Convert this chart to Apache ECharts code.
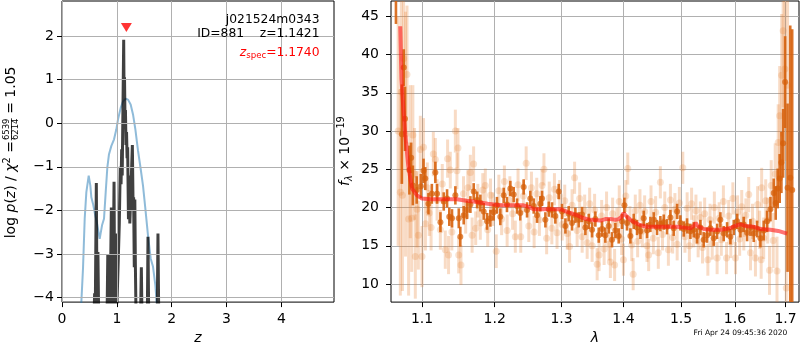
<!DOCTYPE html>
<html>
<head>
<meta charset="utf-8">
<script src="https://cdn.jsdelivr.net/npm/echarts@6/dist/echarts.min.js"></script>
<style>
  html, body { margin: 0; padding: 0; background: #fff; }
  #c { width: 800px; height: 350px; }
</style>
</head>
<body>
<div id="c"></div>
<script>
const FONT = 'DejaVu Sans';

// ---- left panel: redshift probability ----
const zTicks = [0, 1, 2, 3, 4];
const logpTicks = [-4, -3, -2, -1, 0, 1, 2];

// smooth prior-like curve
const zPrior = [0.341, 0.383, 0.414, 0.444, 0.487, 0.517, 0.535, 0.566, 0.608, 0.645, 0.687, 0.730, 0.766, 0.797, 0.827, 0.857, 0.900, 0.949, 0.991, 1.022, 1.070, 1.113, 1.161, 1.204, 1.252, 1.295, 1.338, 1.386, 1.435, 1.477, 1.520, 1.568, 1.617, 1.660, 1.702, 1.745];
const logpPrior = [-4.4, -3.33, -2.19, -1.58, -1.20, -1.43, -1.70, -1.85, -2.12, -2.34, -2.65, -2.34, -2.19, -1.58, -1.01, -0.71, -0.52, -0.37, -0.14, 0.09, 0.35, 0.50, 0.56, 0.54, 0.43, 0.20, -0.14, -0.63, -1.05, -1.43, -1.96, -2.57, -3.10, -3.29, -3.71, -4.4];

// spiky fit p(z)
const zFit = [0.58, 0.595, 0.605, 0.626, 0.64, 0.655, 0.67, 0.82, 0.835, 0.85, 0.86, 0.875, 0.90, 0.925, 0.949, 0.962, 0.979, 0.992, 1.02, 1.045, 1.062, 1.077, 1.088, 1.098, 1.125, 1.133, 1.140, 1.148, 1.157, 1.167, 1.177, 1.187, 1.197, 1.212, 1.222, 1.237, 1.283, 1.297, 1.306, 1.318, 1.328, 1.338, 1.352, 1.43, 1.447, 1.46, 1.555, 1.568, 1.582, 1.735, 1.750, 1.765];
const logpFit = [-4.6, -3.9, -4.6, -1.37, -4.5, -2.95, -4.6, -4.6, -3.0, -3.4, -3.05, -4.6, -1.93, -4.6, -1.34, -4.6, -2.53, -4.6, -4.6, -2.3, -1.0, -1.4, -0.6, -1.2, 1.91, 0.4, 1.05, 0.2, 0.3, -0.5, -0.2, -0.8, -0.55, -2.2, -1.2, -2.3, -0.5, -2.0, -1.7, -3.3, -1.75, -3.25, -4.6, -4.6, -3.3, -4.6, -4.6, -2.6, -4.6, -4.6, -2.53, -4.6];

const zSpec = 1.1740;
const zSpecMarkY = 2.19;

// ---- right panel: spectrum ----
const lamTicks = [1.1, 1.2, 1.3, 1.4, 1.5, 1.6, 1.7];
const fluxTicks = [10, 15, 20, 25, 30, 35, 40, 45];

// [lambda, flux, error] - primary extraction
const specMain = [
  [1.0662, 50.0, 6.0], [1.0738, 29.6, 6.5], [1.0762, 38.3, 2.4], [1.0778, 31.6, 4.2], [1.0835, 24.9, 3.2],
  [1.0858, 26.5, 2.0], [1.0880, 22.9, 2.6], [1.0930, 22.3, 1.8], [1.0985, 22.8, 1.6], [1.1020, 24.8, 1.6],
  [1.1043, 23.8, 1.5], [1.1085, 20.5, 1.4], [1.1130, 21.8, 1.3], [1.1177, 24.6, 1.4], [1.1200, 21.8, 1.3],
  [1.1245, 18.1, 1.3], [1.1290, 20.8, 1.2], [1.1335, 21.2, 1.2], [1.1365, 18.8, 1.2], [1.1402, 18.6, 1.2],
  [1.1448, 21.6, 1.2], [1.1495, 18.6, 1.3], [1.1516, 16.2, 1.3], [1.1563, 19.0, 1.2], [1.1609, 19.7, 1.2],
  [1.1656, 20.4, 1.1], [1.1702, 22.1, 1.1], [1.1750, 21.0, 1.1], [1.1796, 20.6, 1.1], [1.1843, 19.5, 1.1],
  [1.1890, 18.2, 1.1], [1.1938, 18.6, 1.1], [1.1985, 19.4, 1.1], [1.2033, 20.3, 1.1], [1.2081, 18.8, 1.1],
  [1.2130, 21.6, 1.0], [1.2178, 20.4, 1.0], [1.2227, 22.5, 1.0], [1.2276, 21.7, 1.0], [1.2326, 20.2, 1.0],
  [1.2374, 19.3, 1.0], [1.2424, 22.7, 1.0], [1.2474, 19.7, 1.0], [1.2523, 21.2, 1.0], [1.2574, 20.2, 1.0],
  [1.2624, 19.0, 1.0], [1.2674, 20.5, 1.0], [1.2700, 21.2, 1.0], [1.2751, 18.4, 1.0], [1.2802, 19.8, 1.0],
  [1.2853, 19.7, 1.0], [1.2904, 18.9, 1.0], [1.2956, 22.1, 1.0], [1.3008, 19.5, 1.0], [1.3060, 17.6, 1.0],
  [1.3112, 19.2, 1.0], [1.3164, 18.0, 1.0], [1.3217, 19.0, 1.0], [1.3270, 18.4, 1.0], [1.3323, 19.1, 1.0],
  [1.3376, 17.4, 1.0], [1.3430, 18.2, 1.0], [1.3484, 17.1, 1.0], [1.3537, 18.5, 1.0], [1.3592, 16.4, 1.0],
  [1.3646, 17.2, 1.0], [1.3700, 16.4, 1.0], [1.3755, 17.6, 1.0], [1.3810, 15.8, 1.0], [1.3865, 17.0, 1.0],
  [1.3921, 16.3, 1.0], [1.3977, 18.2, 1.0], [1.4016, 20.3, 1.0], [1.4060, 18.0, 1.0], [1.4117, 16.3, 1.0],
  [1.4173, 18.2, 1.0], [1.4230, 17.4, 1.0], [1.4287, 16.9, 1.0], [1.4344, 18.6, 1.0], [1.4402, 17.0, 1.0],
  [1.4459, 17.8, 1.0], [1.4517, 18.4, 1.0], [1.4575, 17.4, 1.0], [1.4633, 17.9, 1.0], [1.4692, 18.1, 1.0],
  [1.4751, 17.5, 1.0], [1.4810, 18.7, 1.0], [1.4869, 17.3, 1.0], [1.4929, 19.5, 1.0], [1.4988, 18.0, 1.0],
  [1.5048, 17.2, 1.0], [1.5108, 17.6, 1.0], [1.5169, 16.9, 1.0], [1.5230, 17.1, 1.0], [1.5290, 16.3, 1.0],
  [1.5351, 17.4, 1.0], [1.5413, 15.8, 1.0], [1.5475, 16.4, 1.0], [1.5536, 17.3, 1.0], [1.5598, 16.0, 1.0],
  [1.5661, 16.9, 1.0], [1.5723, 18.4, 1.0], [1.5786, 16.6, 1.0], [1.5850, 17.1, 1.0], [1.5913, 16.2, 1.0],
  [1.5977, 17.4, 1.0], [1.6041, 18.2, 1.0], [1.6105, 17.1, 1.0], [1.6169, 17.8, 1.0], [1.6234, 16.7, 1.1],
  [1.6299, 17.4, 1.1], [1.6364, 16.6, 1.1], [1.6430, 17.2, 1.1], [1.6495, 16.0, 1.2], [1.6561, 17.0, 1.3],
  [1.6627, 18.2, 1.4], [1.6694, 19.8, 1.6], [1.6760, 21.9, 1.9], [1.6800, 20.6, 2.2], [1.6840, 22.5, 2.6],
  [1.6880, 23.8, 3.2], [1.6915, 25.9, 4.0], [1.6950, 28.4, 4.5], [1.6990, 36.4, 6.0], [1.7040, 22.6, 11.0],
  [1.7095, 23.9, 19.9], [1.7135, 22.3, 21.0]
];

// [lambda, flux, error] - secondary extraction (faint)
const specAlt = [
  [1.0690, 30.0, 15.0], [1.0718, 22.0, 13.5], [1.0731, 35.1, 12.0], [1.0745, 21.6, 12.5], [1.0760, 39.5, 8.0],
  [1.0785, 29.6, 16.0], [1.0804, 37.4, 9.0], [1.0825, 18.5, 10.0], [1.0847, 26.0, 10.0], [1.0865, 18.6, 7.0],
  [1.0880, 29.5, 6.5], [1.0902, 24.4, 6.0], [1.0912, 13.6, 5.5], [1.0935, 19.8, 5.0], [1.0952, 16.4, 4.5],
  [1.0978, 27.6, 4.4], [1.1000, 13.6, 4.0], [1.1020, 27.9, 3.8], [1.1045, 17.9, 3.5], [1.1070, 22.6, 3.3],
  [1.1095, 19.3, 3.0], [1.1120, 17.4, 3.0], [1.1150, 27.0, 2.9], [1.1177, 26.3, 2.8], [1.1200, 21.0, 2.7],
  [1.1244, 17.1, 2.6], [1.1270, 23.1, 2.6], [1.1311, 14.5, 2.5], [1.1342, 26.4, 2.5], [1.1355, 13.8, 2.5],
  [1.1379, 24.9, 2.4], [1.1400, 16.8, 2.4], [1.1448, 30.0, 2.8], [1.1470, 24.8, 2.4], [1.1484, 27.8, 2.6],
  [1.1494, 13.8, 2.4], [1.1525, 12.5, 2.6], [1.1560, 21.8, 2.3], [1.1590, 18.9, 2.3], [1.1620, 22.6, 2.3],
  [1.1655, 24.6, 2.3], [1.1680, 16.4, 2.3], [1.1701, 25.7, 2.3], [1.1730, 17.3, 2.2], [1.1760, 20.9, 2.2],
  [1.1795, 18.0, 2.2], [1.1830, 22.3, 2.2], [1.1866, 22.9, 2.2], [1.1900, 17.1, 2.2], [1.1940, 21.6, 2.2],
  [1.1975, 19.8, 2.2], [1.2022, 14.3, 2.2], [1.2060, 22.2, 2.1], [1.2100, 18.5, 2.1], [1.2140, 23.4, 2.1],
  [1.2180, 17.0, 2.1], [1.2220, 22.0, 2.1], [1.2260, 19.2, 2.1], [1.2300, 16.2, 2.1], [1.2340, 23.0, 2.1],
  [1.2380, 16.2, 2.1], [1.2420, 21.5, 2.1], [1.2461, 25.8, 2.2], [1.2500, 17.6, 2.1], [1.2540, 22.6, 2.1],
  [1.2580, 16.8, 2.1], [1.2620, 21.8, 2.1], [1.2660, 18.4, 2.1], [1.2700, 22.9, 2.1], [1.2729, 25.0, 2.1],
  [1.2770, 16.0, 2.1], [1.2810, 21.3, 2.1], [1.2850, 17.3, 2.1], [1.2890, 22.4, 2.1], [1.2930, 16.7, 2.1],
  [1.2970, 21.5, 2.1], [1.3010, 17.8, 2.1], [1.3050, 20.9, 2.1], [1.3090, 16.6, 2.1], [1.3126, 14.9, 2.1],
  [1.3165, 20.3, 2.1], [1.3205, 23.9, 2.1], [1.3245, 17.0, 2.1], [1.3285, 21.2, 2.1], [1.3325, 16.2, 2.1],
  [1.3365, 19.6, 2.1], [1.3405, 15.4, 2.1], [1.3445, 20.5, 2.1], [1.3485, 15.0, 2.1], [1.3525, 19.7, 2.1],
  [1.3566, 12.6, 2.1], [1.3598, 13.8, 2.1], [1.3640, 18.9, 2.1], [1.3680, 14.6, 2.1], [1.3720, 20.0, 2.1],
  [1.3760, 15.2, 2.1], [1.3783, 12.9, 2.1], [1.3820, 19.2, 2.1], [1.3853, 12.5, 2.1], [1.3890, 17.9, 2.1],
  [1.3930, 20.8, 2.1], [1.3970, 15.9, 2.1], [1.4000, 13.2, 2.1], [1.4040, 21.5, 2.1], [1.4073, 25.1, 2.1],
  [1.4110, 18.1, 2.1], [1.4140, 15.1, 2.1], [1.4164, 11.3, 2.1], [1.4200, 19.6, 2.1], [1.4240, 15.6, 2.1],
  [1.4280, 20.3, 2.1], [1.4320, 16.9, 2.1], [1.4360, 19.5, 2.1], [1.4400, 15.0, 2.1], [1.4429, 13.8, 2.1],
  [1.4470, 20.8, 2.1], [1.4510, 16.0, 2.1], [1.4550, 19.4, 2.1], [1.4597, 14.1, 2.1], [1.4633, 23.3, 2.1],
  [1.4670, 16.5, 2.1], [1.4710, 20.0, 2.1], [1.4774, 14.5, 2.1], [1.4810, 21.0, 2.1], [1.4850, 16.1, 2.1],
  [1.4890, 19.8, 2.1], [1.4930, 15.2, 2.1], [1.4970, 20.6, 2.1], [1.5031, 25.2, 2.1], [1.5070, 16.2, 2.1],
  [1.5110, 19.9, 2.1], [1.5150, 15.0, 2.1], [1.5190, 20.5, 2.1], [1.5230, 16.9, 2.1], [1.5270, 19.6, 2.1],
  [1.5310, 15.6, 2.1], [1.5350, 18.7, 2.1], [1.5390, 14.8, 2.1], [1.5430, 19.2, 2.1], [1.5489, 13.2, 2.1],
  [1.5530, 18.4, 2.1], [1.5570, 15.3, 2.1], [1.5610, 20.0, 2.1], [1.5662, 13.4, 2.1], [1.5700, 18.6, 2.1],
  [1.5740, 15.8, 2.1], [1.5780, 20.8, 2.1], [1.5840, 13.4, 2.1], [1.5880, 18.9, 2.1], [1.5920, 15.5, 2.1],
  [1.5960, 21.2, 2.1], [1.6010, 13.4, 2.1], [1.6050, 19.4, 2.2], [1.6090, 15.9, 2.2], [1.6130, 20.1, 2.2],
  [1.6170, 16.6, 2.2], [1.6210, 19.0, 2.2], [1.6266, 21.7, 2.3], [1.6300, 14.1, 2.3], [1.6340, 18.2, 2.3],
  [1.6397, 13.4, 2.4], [1.6440, 20.4, 2.4], [1.6480, 17.1, 2.5], [1.6510, 13.2, 2.5], [1.6520, 22.6, 2.6],
  [1.6560, 16.0, 2.7], [1.6600, 20.9, 2.8], [1.6640, 18.3, 3.0], [1.6676, 11.8, 3.2], [1.6710, 22.9, 3.3],
  [1.6750, 15.7, 3.6], [1.6790, 24.4, 4.0], [1.6826, 11.7, 4.5], [1.6850, 28.5, 5.0], [1.6880, 32.0, 6.5],
  [1.6920, 37.3, 8.0], [1.6950, 43.1, 10.0], [1.6985, 38.1, 12.0], [1.7013, 9.5, 13.0], [1.7040, 36.0, 15.0]
];

// best-fit template
const modelLam = [1.0717, 1.0732, 1.0760, 1.0782, 1.0820, 1.0869, 1.0934, 1.1000, 1.1110, 1.1300, 1.1470, 1.1600, 1.1700, 1.1900, 1.2081, 1.2423, 1.2500, 1.2573, 1.2800, 1.2982, 1.3100, 1.3244, 1.3350, 1.3457, 1.3619, 1.3700, 1.3783, 1.3865, 1.3921, 1.3970, 1.4003, 1.4060, 1.4117, 1.4200, 1.4287, 1.4402, 1.4700, 1.4928, 1.5100, 1.5169, 1.5230, 1.5265, 1.5300, 1.5412, 1.5550, 1.5723, 1.5900, 1.6000, 1.6105, 1.6200, 1.6364, 1.6500, 1.6694, 1.6850, 1.7031];
const modelFlux = [43.7, 36.8, 32.5, 29.5, 25.5, 22.5, 21.6, 21.2, 21.1, 21.1, 21.1, 20.9, 20.8, 20.5, 20.3, 20.3, 20.1, 19.8, 19.8, 19.8, 19.4, 19.0, 18.6, 18.4, 18.3, 18.5, 18.5, 18.4, 18.5, 18.8, 19.3, 18.8, 18.4, 18.0, 17.7, 17.5, 17.5, 17.5, 17.35, 17.3, 17.6, 18.0, 17.6, 17.2, 17.1, 17.1, 17.3, 17.6, 17.8, 17.6, 17.5, 17.2, 17.1, 16.95, 16.6];

const pair = (xs, ys) => xs.map((x, i) => [x, ys[i]]);
const minusSign = v => String(v).replace('-', '\u2212');

// vertical error bars, clipped to the plotting area
function errorBars(color, width) {
  return function (params, api) {
    const lam = api.value(0), f = api.value(1), e = api.value(2);
    const lo = api.coord([lam, f - e]);
    const hi = api.coord([lam, f + e]);
    const cs = params.coordSys;
    const y1 = Math.min(lo[1], cs.y + cs.height);
    const y2 = Math.max(hi[1], cs.y);
    if (y1 <= y2) return null;
    return {
      type: 'line',
      shape: { x1: lo[0], y1: y1, x2: hi[0], y2: y2 },
      style: { stroke: color, lineWidth: width }
    };
  };
}

const GRID_GRAY = '#b0b0b0';
const tickStyle = () => ({ color: '#000', width: 1 });
const gridLine = () => ({ show: true, lineStyle: { color: GRID_GRAY, width: 1 } });
const labelBase = { fontSize: 14, color: '#000', fontFamily: FONT };
const hiddenLine = () => ({ show: false, onZero: false });

// reference lines of the p(z) panel, placed on the axis values
const pzGridMarks = zTicks.map(v => ({ xAxis: v })).concat(logpTicks.map(v => ({ yAxis: v })));

const chart = echarts.init(document.getElementById('c'), null, { renderer: 'canvas' });

chart.setOption({
  animation: false,
  backgroundColor: '#fff',
  textStyle: { fontFamily: FONT },
  grid: [
    { left: 62, top: 1, width: 272, height: 303, show: true, borderColor: '#000', borderWidth: 1 },
    { left: 391, top: 1, width: 408, height: 303, show: true, borderColor: '#000', borderWidth: 1 }
  ],
  xAxis: [
    {
      type: 'value', gridIndex: 0, min: 0, max: 4.96, position: 'bottom',
      name: 'z', nameLocation: 'middle', nameGap: 28,
      nameTextStyle: { fontStyle: 'italic', fontSize: 14, color: '#000', fontFamily: FONT },
      axisLine: hiddenLine(),
      axisTick: { show: true, length: 5, customValues: zTicks, lineStyle: tickStyle() },
      axisLabel: Object.assign({ customValues: zTicks, margin: 10 }, labelBase),
      splitLine: gridLine()
    },
    {
      type: 'log', logBase: 10, gridIndex: 1, min: 1.0599, max: 1.7275, position: 'bottom',
      name: 'λ', nameLocation: 'middle', nameGap: 28,
      nameTextStyle: { fontStyle: 'italic', fontSize: 14, color: '#000', fontFamily: FONT },
      axisLine: hiddenLine(),
      axisTick: { show: true, length: 5, customValues: lamTicks, lineStyle: tickStyle() },
      axisLabel: Object.assign({ customValues: lamTicks, margin: 10, formatter: v => Number(v).toFixed(1) }, labelBase),
      splitLine: gridLine()
    }
  ],
  yAxis: [
    {
      type: 'value', gridIndex: 0, min: -4.1, max: 2.8, position: 'left',
      axisLine: hiddenLine(),
      axisTick: { show: true, length: 5, customValues: logpTicks, lineStyle: tickStyle() },
      axisLabel: Object.assign({ customValues: logpTicks, margin: 8, formatter: minusSign }, labelBase),
      splitLine: gridLine()
    },
    {
      type: 'value', gridIndex: 1, min: 7.65, max: 47.0, position: 'left',
      axisLine: hiddenLine(),
      axisTick: { show: true, length: 5, customValues: fluxTicks, lineStyle: tickStyle() },
      axisLabel: Object.assign({ customValues: fluxTicks, margin: 12 }, labelBase),
      splitLine: gridLine()
    }
  ],
  series: [
    {
      // grid of the p(z) panel, kept underneath the curves
      type: 'line', xAxisIndex: 0, yAxisIndex: 0, data: [], z: 1, silent: true,
      markLine: {
        silent: true, symbol: ['none', 'none'], label: { show: false },
        lineStyle: { color: GRID_GRAY, width: 1, type: 'solid' },
        emphasis: { disabled: true },
        data: pzGridMarks
      }
    },
    {
      type: 'line', xAxisIndex: 0, yAxisIndex: 0, data: pair(zPrior, logpPrior),
      showSymbol: false, clip: true, z: 3,
      lineStyle: { color: 'rgba(31,119,180,0.5)', width: 2 }
    },
    {
      type: 'line', xAxisIndex: 0, yAxisIndex: 0, data: pair(zFit, logpFit),
      showSymbol: false, clip: true, z: 4,
      lineStyle: { color: 'rgba(0,0,0,0.75)', width: 3 }
    },
    {
      type: 'scatter', xAxisIndex: 0, yAxisIndex: 0, data: [[zSpec, zSpecMarkY]],
      symbol: 'triangle', symbolRotate: 180, symbolSize: [11, 9], z: 5,
      itemStyle: { color: '#ff0000' }
    },
    {
      type: 'custom', xAxisIndex: 1, yAxisIndex: 1, data: specAlt, z: 2,
      encode: { x: 0, y: 1 },
      renderItem: errorBars('rgba(230,125,45,0.28)', 3)
    },
    {
      type: 'scatter', xAxisIndex: 1, yAxisIndex: 1, data: specAlt.map(d => [d[0], d[1]]),
      symbolSize: 7, z: 2,
      itemStyle: { color: 'rgba(230,125,45,0.28)' }
    },
    {
      type: 'custom', xAxisIndex: 1, yAxisIndex: 1, data: specMain, z: 3,
      encode: { x: 0, y: 1 },
      renderItem: errorBars('rgba(214,96,10,0.88)', 2.6)
    },
    {
      type: 'scatter', xAxisIndex: 1, yAxisIndex: 1, data: specMain.map(d => [d[0], d[1]]),
      symbolSize: 6, z: 3,
      itemStyle: { color: 'rgba(214,96,10,0.9)' }
    },
    {
      type: 'line', xAxisIndex: 1, yAxisIndex: 1, data: pair(modelLam, modelFlux),
      showSymbol: false, clip: true, z: 4,
      lineStyle: { color: 'rgba(255,20,20,0.6)', width: 4 }
    }
  ],
  graphic: [
    {
      type: 'text', x: 319.5, y: 19.7, z: 10,
      style: { text: 'j021524m0343', fontSize: 12.3, fontFamily: FONT, fill: '#000', align: 'right', verticalAlign: 'middle' }
    },
    {
      type: 'text', x: 319.5, y: 34, z: 10,
      style: { text: 'ID=881    z=1.1421', fontSize: 12.3, fontFamily: FONT, fill: '#000', align: 'right', verticalAlign: 'middle' }
    },
    {
      type: 'text', x: 319.5, y: 52.4, z: 10,
      style: {
        text: '{i|z}{s|spec}{n|=1.1740}', align: 'right', verticalAlign: 'middle', fill: '#ff0000',
        rich: {
          i: { fontSize: 12.3, fontStyle: 'italic', fontFamily: FONT, color: '#ff0000', lineHeight: 16 },
          s: { fontSize: 8.6, fontFamily: FONT, color: '#ff0000', lineHeight: 10, verticalAlign: 'bottom' },
          n: { fontSize: 12.3, fontFamily: FONT, color: '#ff0000', lineHeight: 16 }
        }
      }
    },
    {
      // rotated y label of the left panel, with a stacked fraction
      type: 'group', x: 11, y: 238.3, rotation: Math.PI / 2, z: 10,
      children: [
        {
          type: 'text', x: 0, y: 0,
          style: {
            text: '{t|log }{i|p}{t|(}{i|z}{t|) / }{i|χ}{sup|2}{t| = }',
            align: 'left', verticalAlign: 'middle',
            rich: {
              t: { fontSize: 14, fontFamily: FONT, color: '#000', lineHeight: 18 },
              i: { fontSize: 14, fontFamily: FONT, fontStyle: 'italic', color: '#000', lineHeight: 18 },
              sup: { fontSize: 9.8, fontFamily: FONT, color: '#000', lineHeight: 10, verticalAlign: 'top' }
            }
          }
        },
        {
          type: 'text', x: 109, y: -4,
          style: { text: '6539', fontSize: 8.5, fontFamily: FONT, fill: '#000', align: 'center', verticalAlign: 'middle' }
        },
        {
          type: 'line', shape: { x1: 98, y1: 0.5, x2: 120, y2: 0.5 },
          style: { stroke: '#000', lineWidth: 0.8 }
        },
        {
          type: 'text', x: 109, y: 5,
          style: { text: '6214', fontSize: 8.5, fontFamily: FONT, fill: '#000', align: 'center', verticalAlign: 'middle' }
        },
        {
          type: 'text', x: 120, y: 0,
          style: { text: ' = 1.05', fontSize: 14, fontFamily: FONT, fill: '#000', align: 'left', verticalAlign: 'middle' }
        }
      ]
    },
    {
      // rotated y label of the spectrum panel
      type: 'group', x: 345.5, y: 186, rotation: Math.PI / 2, z: 10,
      children: [
        {
          type: 'text', x: 0, y: 0,
          style: {
            text: '{i|f}{sub|λ}{t| × 10}{sup|−19}',
            align: 'left', verticalAlign: 'middle',
            rich: {
              t: { fontSize: 14, fontFamily: FONT, color: '#000', lineHeight: 18 },
              i: { fontSize: 14, fontFamily: FONT, fontStyle: 'italic', color: '#000', lineHeight: 18 },
              sub: { fontSize: 9.8, fontFamily: FONT, fontStyle: 'italic', color: '#000', lineHeight: 10, verticalAlign: 'bottom' },
              sup: { fontSize: 9.8, fontFamily: FONT, color: '#000', lineHeight: 10, verticalAlign: 'top' }
            }
          }
        }
      ]
    },
    {
      type: 'text', x: 740.5, y: 333, z: 10,
      style: { text: 'Fri Apr 24 09:45:36 2020', fontSize: 7.5, fontFamily: FONT, fill: '#000', align: 'center', verticalAlign: 'middle' }
    }
  ]
});
</script>
</body>
</html>
